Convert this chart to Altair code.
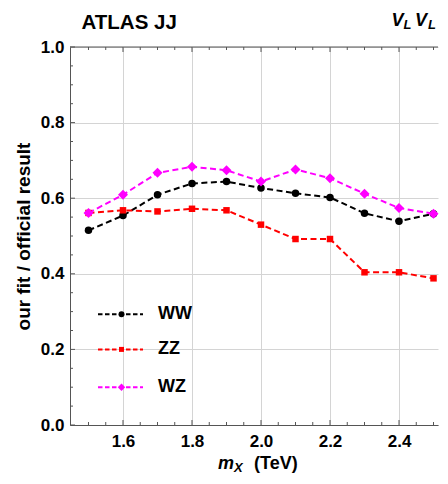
import altair as alt
import pandas as pd

# resonance mass points (TeV) and fit / official ratio per channel
mass_tev = [1.5, 1.6, 1.7, 1.8, 1.9, 2.0, 2.1, 2.2, 2.3, 2.4, 2.5]
ratio_ww = [0.515, 0.554, 0.609, 0.639, 0.644, 0.627, 0.613, 0.602, 0.560, 0.539, 0.559]
ratio_zz = [0.561, 0.568, 0.565, 0.572, 0.568, 0.530, 0.492, 0.492, 0.404, 0.404, 0.388]
ratio_wz = [0.561, 0.609, 0.667, 0.683, 0.674, 0.644, 0.676, 0.653, 0.612, 0.574, 0.559]

series = ["WW", "ZZ", "WZ"]
colors = ["#000000", "#ff0000", "#ff00ff"]
shapes = ["circle", "square", "diamond"]
marker_sizes = [56, 42, 100]
legend_marker_sizes = [36, 25, 56]
legend_y = [0.293, 0.2, 0.1]

x_major = [1.6, 1.8, 2.0, 2.2, 2.4]
x_minor = [1.5, 1.55, 1.65, 1.7, 1.75, 1.85, 1.9, 1.95,
           2.05, 2.1, 2.15, 2.25, 2.3, 2.35, 2.45, 2.5]
y_major = [0.0, 0.2, 0.4, 0.6, 0.8, 1.0]
y_minor = [0.05, 0.1, 0.15, 0.25, 0.3, 0.35, 0.45, 0.5, 0.55,
           0.65, 0.7, 0.75, 0.85, 0.9, 0.95]

W, H = 368, 378
FONT = "Liberation Sans"
FRAME = "#555555"

df = pd.DataFrame({
    "m": mass_tev * 3,
    "ratio": ratio_ww + ratio_zz + ratio_wz,
    "series": [s for s in series for _ in mass_tev],
})
legend_df = pd.DataFrame({"series": series, "ly": legend_y})

xs = alt.Scale(domain=[1.4464, 2.513], nice=False, zero=False)
ys = alt.Scale(domain=[0, 1], nice=False, zero=False)
x_axis = alt.Axis(values=x_major, format=".1f", title=None, grid=True)
y_axis = alt.Axis(values=y_major, format=".1f", title="our fit / official result", grid=True)
color = alt.Color("series:N", scale=alt.Scale(domain=series, range=colors), legend=None)


def X(field):
    return alt.X(field, scale=xs, axis=x_axis)


def Y(field):
    return alt.Y(field, scale=ys, axis=y_axis)


lines = alt.Chart(df).mark_line(strokeDash=[6, 3.5], strokeWidth=2).encode(
    x=X("m:Q"), y=Y("ratio:Q"), color=color
)

# one marker layer per channel, so each keeps its own shape and size
points = alt.layer(*[
    alt.Chart(df).transform_filter(alt.datum.series == name)
    .mark_point(filled=True, opacity=1, shape=shp, size=sz)
    .encode(x=X("m:Q"), y=Y("ratio:Q"), color=color)
    for name, shp, sz in zip(series, shapes, marker_sizes)
])


def x_ticks(values, length, top):
    y0, y1 = (0, length) if top else (H, H - length)
    return alt.Chart(pd.DataFrame({"t": values})).mark_rule(color=FRAME, strokeWidth=1).encode(
        x=X("t:Q"), y=alt.value(y0), y2=alt.value(y1)
    )


def y_ticks(values, length):
    return alt.Chart(pd.DataFrame({"t": values})).mark_rule(color=FRAME, strokeWidth=1).encode(
        y=Y("t:Q"), x=alt.value(0), x2=alt.value(length)
    )


def note(text, x, y, size, italic=False):
    return alt.Chart(pd.DataFrame({"t": [text]})).mark_text(
        align="left", baseline="alphabetic", font=FONT, fontSize=size,
        fontWeight="bold", fontStyle="italic" if italic else "normal", color="black",
    ).encode(text="t:N", x=alt.value(x), y=alt.value(y))


top_frame = alt.Chart(pd.DataFrame({"t": [0]})).mark_rule(color=FRAME, strokeWidth=1).encode(
    x=alt.value(0), x2=alt.value(W), y=alt.value(0)
)

ticks = (
    x_ticks(x_major, 5, False) + x_ticks(x_minor, 3, False)
    + x_ticks(x_major, 5, True) + x_ticks(x_minor, 3, True)
    + y_ticks(y_major, 5) + y_ticks(y_minor, 3)
)

leg_lines = alt.Chart(legend_df).mark_rule(strokeDash=[4.5, 2.5], strokeWidth=2).encode(
    x=alt.value(28), x2=alt.value(73), y=Y("ly:Q"), color=color,
)
leg_points = alt.layer(*[
    alt.Chart(legend_df).transform_filter(alt.datum.series == name)
    .mark_point(filled=True, opacity=1, shape=shp, size=sz)
    .encode(x=alt.value(51.5), y=Y("ly:Q"), color=color)
    for name, shp, sz in zip(series, shapes, legend_marker_sizes)
])
leg_text = alt.Chart(legend_df).mark_text(
    align="left", baseline="middle", font=FONT, fontSize=18, fontWeight="bold", color="black"
).encode(x=alt.value(88), y=Y("ly:Q"), text="series:N")

notes = (
    note("ATLAS JJ", 11.5, -18.5, 20.5)
    + note("V", 321.5, -21, 18, True) + note("L", 333.5, -18.5, 13, True)
    + note("V", 345, -21, 18, True) + note("L", 358, -18.5, 13, True)
    + note("m", 148, 422, 18, True) + note("X", 164, 425, 13, True)
    + note("(TeV)", 184, 422, 18)
)

chart = (
    alt.layer(lines, points, ticks, top_frame, leg_lines, leg_points, leg_text, notes)
    .properties(
        width=W, height=H,
        autosize=alt.AutoSizeParams(type="none"),
        padding={"left": 62, "top": 39, "right": 2, "bottom": 49},
    )
    .configure_axis(
        labelFont=FONT, labelFontSize=17, labelFontWeight="bold", labelColor="black",
        labelFlush=False, ticks=False, tickSize=0, domain=True, domainColor=FRAME,
        gridColor="#d4d4d4", gridWidth=1,
        titleFont=FONT, titleFontSize=19, titleFontWeight="bold", titleColor="black",
    )
    .configure_axisX(labelPadding=8)
    .configure_axisY(labelPadding=6, titlePadding=7)
    .configure_view(stroke="transparent")
)

chart.save("out.html", embed_options={"renderer": "svg", "actions": False})
